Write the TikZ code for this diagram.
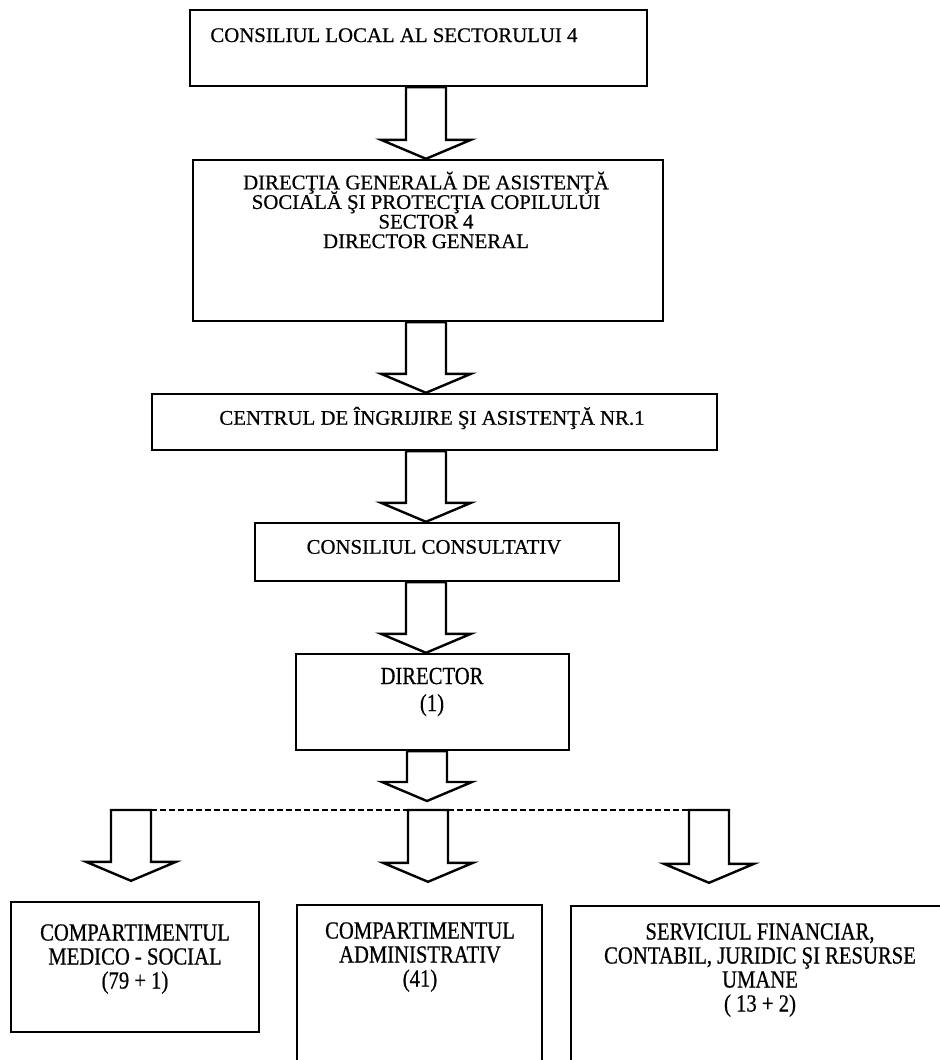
\documentclass[tikz,border=0pt]{standalone}
\usepackage{fontspec}
\setmainfont{Liberation Serif}[FakeBold=0.6]
\newfontfamily\narrowserif{Liberation Serif}[FakeStretch=0.84, FakeBold=0.6]
\usetikzlibrary{calc}
\newcommand{\tightlines}{\lineskiplimit=-20pt\relax}

\tikzset{
	box/.style={draw, line width=1.2pt, inner sep=0pt},
	lbl/.style={inner sep=0pt, align=center, font=\fontsize{10.4}{9.8}\selectfont\tightlines},
	sub/.style={inner sep=0pt, align=center, font=\narrowserif\fontsize{12.3}{12}\selectfont\tightlines},
	blockarr/.style={draw, line width=1.2pt, line join=miter},
	bus/.style={line width=1.1pt, dash pattern=on 3pt off 1.5pt}
}
% hollow arrow from #1 down to tip #2
\newcommand{\blockarrow}[2]{%
	\draw[blockarr] ($(#1)+(-20,0)$) -- ($(#2)+(-20,-19)$) -- ($(#2)+(-45,-19)$) -- (#2)
	-- ($(#2)+(45,-19)$) -- ($(#2)+(20,-19)$) -- ($(#1)+(20,0)$) -- cycle;}

\begin{document}
\begin{tikzpicture}[x=0.5pt,y=-0.5pt]
	\useasboundingbox (0,0) rectangle (940,1060);
	\clip (0,0) rectangle (940,1060);
	\coordinate (axis) at (426,0);
	% main column
	\node[box, minimum width=228.5pt, minimum height=38pt] (local) at (418.5,48) {};
	\node[lbl, anchor=base west] (localT) at (210,42) {CONSILIUL LOCAL AL SECTORULUI 4};
	\node[box, minimum width=235pt, minimum height=80.5pt] (dgas) at (428,240.5) {};
	\node[lbl] (dgasT) at (426,210) {DIRECŢIA GENERALĂ DE ASISTENŢĂ\\SOCIALĂ ŞI PROTECŢIA COPILULUI\\SECTOR 4\\DIRECTOR GENERAL};
	\node[box, minimum width=282.5pt, minimum height=28pt] (centru) at (434.5,422) {};
	\node[lbl] (centruT) at (432,418) {CENTRUL DE ÎNGRIJIRE ŞI ASISTENŢĂ NR.1};
	\node[box, minimum width=182pt, minimum height=29pt] (consult) at (437,552) {};
	\node[lbl] (consultT) at (434,547) {CONSILIUL CONSULTATIV};
	\node[box, minimum width=136.5pt, minimum height=48pt] (director) at (432.5,702) {};
	\node[sub, font=\narrowserif\fontsize{12.3}{13.5}\selectfont] (directorT) at (432,692) {DIRECTOR\\(1)};
	% bottom row
	\node[box, minimum width=124pt, minimum height=65pt] (medsoc) at (135,967) {};
	\node[sub] (medsocT) at (135,959) {COMPARTIMENTUL\\MEDICO - SOCIAL\\(79 + 1)};
	\node[box, minimum width=122.5pt, minimum height=80pt] (admin) at (419.5,985) {};
	\node[sub] (adminT) at (420,957) {COMPARTIMENTUL\\ADMINISTRATIV\\(41)};
	\node[box, minimum width=187pt, minimum height=79.5pt] (financiar) at (758,985.5) {};
	\node[sub] (financiarT) at (760,970) {SERVICIUL FINANCIAR,\\CONTABIL, JURIDIC ŞI RESURSE\\UMANE\\( 13 + 2)};

	\blockarrow{local.south -| axis}{dgas.north -| axis}
	\blockarrow{dgas.south -| axis}{centru.north -| axis}
	\blockarrow{centru.south -| axis}{consult.north -| axis}
	\blockarrow{consult.south -| axis}{director.north -| axis}

	\coordinate (busL) at (131,810);
	\coordinate (busM) at (428,810);
	\coordinate (busR) at (709,810);
	\coordinate (busTop) at (427,801);
	\coordinate (tipL) at ($(medsoc.north -| busL)+(0,-20)$);
	\coordinate (tipM) at ($(admin.north -| busM)+(0,-22)$);
	\coordinate (tipR) at ($(financiar.north -| busR)+(0,-22)$);
	\blockarrow{director.south -| busTop}{busTop}
	\draw[bus] ($(busL)+(20,0)$) -- ($(busR)+(-20,0)$);
	\blockarrow{busL}{tipL}
	\blockarrow{busM}{tipM}
	\blockarrow{busR}{tipR}
\end{tikzpicture}
\end{document}
